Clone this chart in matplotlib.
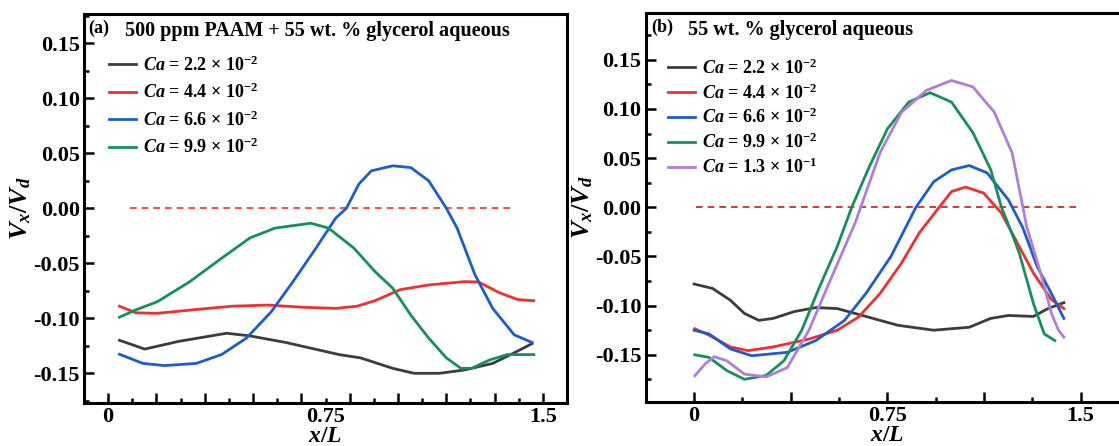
import numpy as np
import matplotlib.pyplot as plt
from matplotlib.ticker import MultipleLocator, FixedLocator, NullFormatter

plt.rcParams['font.family'] = 'Liberation Serif'
plt.rcParams['font.weight'] = 'bold'
plt.rcParams['axes.unicode_minus'] = False
plt.rcParams['mathtext.fontset'] = 'custom'
plt.rcParams['mathtext.rm'] = 'Liberation Serif:bold'
plt.rcParams['mathtext.it'] = 'Liberation Serif:italic:bold'
plt.rcParams['mathtext.bf'] = 'Liberation Serif:bold'

## (a) 500 ppm PAAM + 55 wt. % glycerol
a_black_x = [0.039, 0.126, 0.243, 0.409, 0.489, 0.613, 0.797, 0.871, 0.982, 1.056, 1.143, 1.229, 1.327, 1.389, 1.463]
a_black_y = [-0.120, -0.128, -0.121, -0.1136, -0.116, -0.122, -0.133, -0.136, -0.1455, -0.150, -0.150, -0.147, -0.141, -0.133, -0.123]
a_red_x = [0.039, 0.095, 0.169, 0.304, 0.428, 0.551, 0.674, 0.785, 0.859, 0.921, 1.007, 1.106, 1.229, 1.278, 1.352, 1.414, 1.469]
a_red_y = [-0.089, -0.095, -0.0955, -0.092, -0.089, -0.088, -0.090, -0.091, -0.089, -0.084, -0.074, -0.0697, -0.0667, -0.067, -0.077, -0.083, -0.084]
a_blue_x = [0.039, 0.12, 0.194, 0.304, 0.391, 0.477, 0.563, 0.637, 0.715, 0.785, 0.822, 0.865, 0.908, 0.982, 1.044, 1.106, 1.167, 1.204, 1.266, 1.327, 1.401, 1.463]
a_blue_y = [-0.1327, -0.141, -0.143, -0.141, -0.133, -0.118, -0.094, -0.067, -0.037, -0.009, 0.0, 0.022, 0.034, 0.0386, 0.037, 0.025, 0.0, -0.018, -0.0606, -0.091, -0.115, -0.122]
a_green_x = [0.039, 0.095, 0.169, 0.28, 0.391, 0.489, 0.576, 0.699, 0.76, 0.847, 0.921, 0.982, 1.044, 1.106, 1.167, 1.217, 1.254, 1.315, 1.377, 1.469]
a_green_y = [-0.099, -0.0924, -0.085, -0.067, -0.0455, -0.027, -0.018, -0.0136, -0.018, -0.036, -0.0576, -0.0727, -0.097, -0.118, -0.136, -0.1455, -0.1455, -0.138, -0.133, -0.133]

## (b) 55 wt. % glycerol
b_black_x = [0.0, 0.072, 0.141, 0.196, 0.252, 0.307, 0.39, 0.473, 0.556, 0.653, 0.791, 0.93, 1.068, 1.151, 1.22, 1.317, 1.373, 1.435]
b_black_y = [-0.078, -0.0825, -0.0945, -0.108, -0.115, -0.113, -0.106, -0.102, -0.103, -0.110, -0.120, -0.125, -0.122, -0.113, -0.110, -0.111, -0.103, -0.097]
b_red_x = [0.003, 0.058, 0.141, 0.21, 0.307, 0.446, 0.556, 0.639, 0.722, 0.805, 0.874, 0.951, 0.999, 1.054, 1.124, 1.193, 1.248, 1.317, 1.387, 1.435]
b_red_y = [-0.1235, -0.130, -0.142, -0.1458, -0.142, -0.134, -0.125, -0.1115, -0.0876, -0.0568, -0.026, 0.0, 0.016, 0.0206, 0.0144, -0.006, -0.033, -0.067, -0.094, -0.103]
b_blue_x = [0.0, 0.058, 0.141, 0.224, 0.362, 0.473, 0.584, 0.667, 0.764, 0.861, 0.93, 0.999, 1.068, 1.137, 1.22, 1.276, 1.331, 1.393, 1.435]
b_blue_y = [-0.125, -0.1287, -0.144, -0.151, -0.1475, -0.1355, -0.115, -0.0876, -0.05, 0.0, 0.026, 0.038, 0.0425, 0.035, 0.0075, -0.021, -0.06, -0.091, -0.113]
b_green_x = [0.003, 0.058, 0.127, 0.196, 0.28, 0.349, 0.418, 0.487, 0.556, 0.612, 0.681, 0.75, 0.833, 0.916, 0.999, 1.082, 1.151, 1.193, 1.234, 1.262, 1.317, 1.359, 1.4]
b_green_y = [-0.150, -0.1526, -0.166, -0.175, -0.171, -0.156, -0.125, -0.081, -0.0397, 0.0, 0.0418, 0.0796, 0.107, 0.1166, 0.107, 0.076, 0.0384, 0.0, -0.027, -0.0466, -0.098, -0.1288, -0.1355]
b_purple_x = [0.003, 0.044, 0.079, 0.127, 0.196, 0.28, 0.362, 0.446, 0.529, 0.625, 0.722, 0.805, 0.902, 0.999, 1.082, 1.165, 1.234, 1.276, 1.29, 1.345, 1.387, 1.414, 1.435]
b_purple_y = [-0.1714, -0.159, -0.152, -0.156, -0.1697, -0.1725, -0.163, -0.125, -0.074, -0.016, 0.0556, 0.0967, 0.119, 0.129, 0.1225, 0.0967, 0.0556, 0.0, -0.019, -0.067, -0.108, -0.125, -0.132]

ca_labels = ['2.2 × 10$^{-2}$', '4.4 × 10$^{-2}$', '6.6 × 10$^{-2}$', '9.9 × 10$^{-2}$', '1.3 × 10$^{-1}$']
colors = ['#3c3c3c', '#f03030', '#1c5cd0', '#16905a', '#b07ed8']


def style_axis(ax, ylim, xlim, xmajor, xminor):
    ax.set_xlim(*xlim)
    ax.set_ylim(*ylim)
    ax.xaxis.set_major_locator(FixedLocator(xmajor))
    ax.xaxis.set_minor_locator(FixedLocator(xminor))
    ax.xaxis.set_major_formatter(NullFormatter())
    ax.yaxis.set_major_locator(MultipleLocator(0.05))
    ax.yaxis.set_minor_locator(MultipleLocator(0.025))
    ax.yaxis.set_major_formatter(lambda v, p: '%.2f' % v)
    ax.tick_params(which='both', direction='in', width=1.8, labelsize=16)
    ax.tick_params(which='major', length=7)
    ax.tick_params(which='minor', length=3.5)
    ax.tick_params(axis='x', which='both', top=False)
    ax.tick_params(axis='y', which='both', right=False, pad=3)
    for s in ax.spines.values():
        s.set_linewidth(2.2)
    # tick labels on a separate bottom axis, as in the original
    sec = ax.secondary_xaxis('bottom')
    sec.set_xticks([0, 0.75, 1.5], labels=['0', '0.75', '1.5'])
    sec.tick_params(length=0, labelsize=16, pad=3)
    sec.spines['bottom'].set_visible(False)
    sec.set_xlabel(r'$x/L$', fontsize=17, labelpad=-1)
    ax.set_ylabel(r'$V_x/V_d$', fontsize=19, labelpad=0)


fig = plt.figure(figsize=(11.19, 4.46), dpi=100)
ax1 = fig.add_axes([0.0751, 0.0964, 0.4316, 0.8733])
ax2 = fig.add_axes([0.5770, 0.0987, 0.4319, 0.8730])

lw = 2.0
ax1.plot([0.076, 1.40], [0, 0], ls=(0, (4, 3)), color='#f03030', lw=1.2)
for (x, y), c, lab in zip([(a_black_x, a_black_y), (a_red_x, a_red_y), (a_blue_x, a_blue_y), (a_green_x, a_green_y)], colors, ca_labels):
    ax1.plot(x, y, color=c, lw=lw, label='$Ca$ = ' + lab)

ax2.plot([0.007, 1.497], [0, 0], ls=(0, (4, 3)), color='#d01818', lw=1.2)
for (x, y), c, lab in zip([(b_black_x, b_black_y), (b_red_x, b_red_y), (b_blue_x, b_blue_y), (b_green_x, b_green_y), (b_purple_x, b_purple_y)], colors, ca_labels):
    ax2.plot(x, y, color=c, lw=lw, label='$Ca$ = ' + lab)

style_axis(ax1, (-0.177, 0.177), (-1/12, 1.5 + 1/12), np.arange(10) / 6, np.arange(1, 19, 2) / 12)
style_axis(ax2, (-0.198, 0.198), (-0.1875, 1.6875), np.arange(5) * 0.375, np.arange(1, 10, 2) * 0.1875)

ax1.text(0.008, 0.985, '(a)', transform=ax1.transAxes, fontsize=13, va='top', ha='left')
ax1.text(0.085, 0.98, '500 ppm PAAM + 55 wt. % glycerol aqueous', transform=ax1.transAxes, fontsize=14.5, va='top', ha='left')
ax2.text(0.012, 0.985, '(b)', transform=ax2.transAxes, fontsize=13, va='top', ha='left')
ax2.text(0.088, 0.98, '55 wt. % glycerol aqueous', transform=ax2.transAxes, fontsize=14.5, va='top', ha='left')

ax1.legend(loc='upper left', bbox_to_anchor=(0.025, 0.925), frameon=False, fontsize=13,
           handlelength=1.5, handletextpad=0.4, labelspacing=0.45, borderpad=0.2)
ax2.legend(loc='upper left', bbox_to_anchor=(0.02, 0.915), frameon=False, fontsize=13,
           handlelength=1.5, handletextpad=0.4, labelspacing=0.3, borderpad=0.2)

fig.savefig('out.png', dpi=100)
